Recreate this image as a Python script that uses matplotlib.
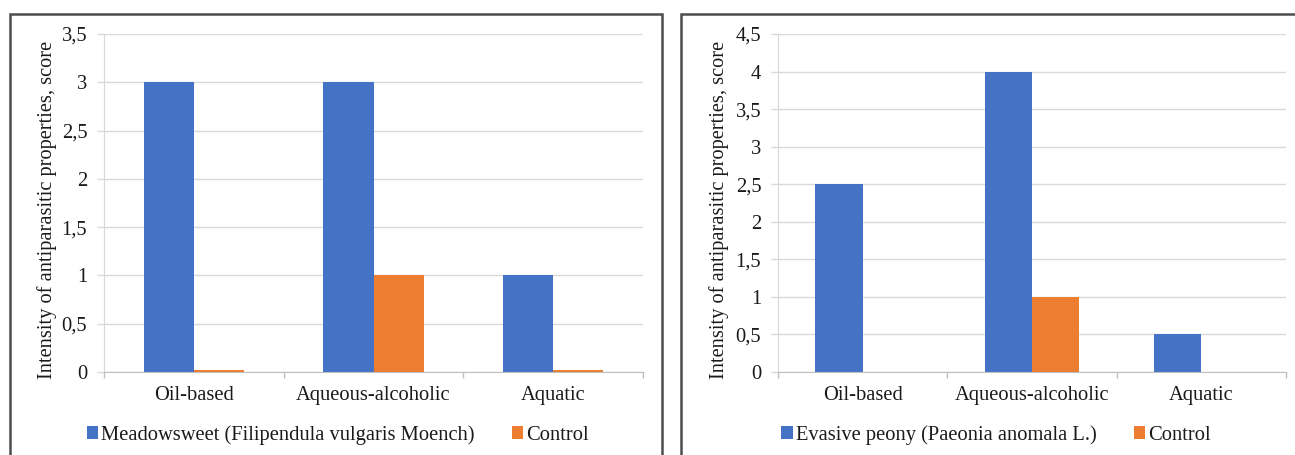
import matplotlib.pyplot as plt
import numpy as np
from matplotlib.patches import Rectangle

plt.rcParams['font.family'] = ['Liberation Serif', 'DejaVu Serif']

categories = ['Oil-based', 'Aqueous-alcoholic', 'Aquatic']

# left panel
meadow = [3, 3, 1]
control_left = [0.02, 1, 0.02]
# right panel
peony = [2.5, 4, 0.5]
control_right = [0, 1, 0]

blue = '#4472C4'
orange = '#ED7D31'
grid_c = '#d9d9d9'
axis_c = '#bfbfbf'
txt_c = '#1a1a1a'
fs = 14.8

W, H = 1295, 455
fig = plt.figure(figsize=(W / 100, H / 100), dpi=100)


def px_axes(x0, x1, y0, y1):
    # pixel box -> figure fraction (y from top)
    return fig.add_axes([x0 / W, (H - y1) / H, (x1 - x0) / W, (y1 - y0) / H])


def panel(ax, s1, s2, name1, ymax, ticks, lab_x, leg_x):
    x = np.arange(len(categories))
    w = 0.28
    ax.bar(x - w / 2, s1, w, color=blue, label=name1, zorder=3)
    ax.bar(x + w / 2, s2, w, color=orange, label='Control', zorder=3)
    ax.set_xlim(-0.5, len(categories) - 0.5)
    ax.set_ylim(0, ymax)
    ax.set_yticks(ticks)
    ax.set_yticklabels([('%g' % t).replace('.', ',') for t in ticks],
                       fontsize=fs, color=txt_c)
    ax.set_xticks(x)
    ax.set_xticklabels(categories, fontsize=fs, color=txt_c)
    ax.set_xticks(np.arange(-0.5, len(categories)), minor=True)
    ax.tick_params(axis='x', which='major', length=0, pad=10)
    ax.tick_params(axis='x', which='minor', length=4.5, color=axis_c, width=1)
    ax.tick_params(axis='y', length=5, color=grid_c, width=1, pad=7)
    ax.grid(axis='y', color=grid_c, linewidth=1, zorder=0)
    for s in ['top', 'right']:
        ax.spines[s].set_visible(False)
    ax.spines['left'].set_color(grid_c)
    ax.spines['bottom'].set_color(axis_c)
    ax.spines['bottom'].set_zorder(4)
    ax.set_ylabel('Intensity of antiparasitic properties, score',
                  fontsize=14.7, color=txt_c)
    ax.yaxis.set_label_coords(lab_x, 0.479)
    fig.legend(*ax.get_legend_handles_labels(), loc='center',
               bbox_to_anchor=(leg_x / W, (H - 435) / H), ncol=2,
               frameon=False, fontsize=fs, handlelength=0.55, handleheight=0.55,
               handletextpad=0.15, columnspacing=1.8, labelcolor=txt_c)


ax1 = px_axes(104, 643, 34, 372)
panel(ax1, meadow, control_left, 'Meadowsweet (Filipendula vulgaris Moench)',
      3.5, np.arange(0, 3.51, 0.5), -0.087, 338)

ax2 = px_axes(778, 1286, 34, 372)
panel(ax2, peony, control_right, 'Evasive peony (Paeonia anomala L.)',
      4.5, np.arange(0, 4.51, 0.5), -0.096, 996)

# panel frames
for x0, x1 in [(10, 662), (681, 1320)]:
    fig.patches.append(Rectangle((x0 / W, -0.05), (x1 - x0) / W,
                                 (H - 14) / H + 0.05, transform=fig.transFigure,
                                 fill=False, edgecolor='#4d4d4d', linewidth=1.8))

fig.savefig('out.png', dpi=100)
